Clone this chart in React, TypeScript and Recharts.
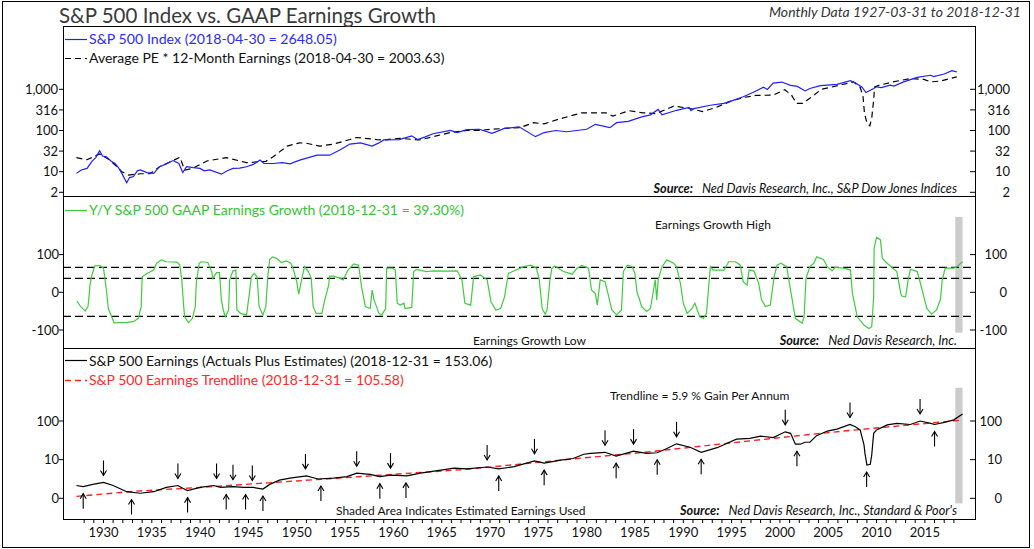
import {
  ComposedChart,
  Line,
  XAxis,
  YAxis,
  ReferenceLine,
  ReferenceArea,
} from 'recharts';

const FONT = 'Lato, "Open Sans", sans-serif';
const W = 1034;
const X_DOMAIN: [number, number] = [1925.81, 2020.29];

// ---- top panel: S&P 500 index vs average PE * 12m earnings (log scale)
const spxYears = [
  1927.2, 1927.7, 1928.3, 1928.8, 1929.2, 1929.6, 1929.9, 1930.3, 1930.8, 1931.2,
  1931.6, 1931.9, 1932.4, 1932.7, 1933.1, 1933.5, 1933.8, 1934.5, 1935.2, 1935.8,
  1936.5, 1937.2, 1937.8, 1938.2, 1938.6, 1939.3, 1940.0, 1940.4, 1941.0, 1942.2,
  1942.8, 1943.4, 1944.1, 1944.8, 1945.5, 1946.2, 1946.6, 1947.6, 1948.5, 1949.3,
  1950.3, 1951.2, 1952.1, 1953.4, 1954.5, 1955.5, 1956.6, 1957.8, 1958.5, 1959.0,
  1960.6, 1961.9, 1962.5, 1963.3, 1964.1, 1965.9, 1966.6, 1967.6, 1968.9, 1970.2,
  1971.5, 1973.0, 1974.7, 1975.6, 1976.8, 1977.9, 1979.0, 1980.0, 1980.9, 1982.4,
  1983.1, 1984.3, 1985.7, 1986.6, 1987.4, 1987.8, 1989.3, 1990.6, 1990.8, 1991.1,
  1992.8, 1994.2, 1995.0, 1996.2, 1997.2, 1998.3, 1998.7, 1999.3, 2000.2, 2001.1,
  2001.8, 2002.6, 2003.1, 2004.2, 2005.9, 2007.3, 2007.8, 2008.5, 2008.9, 2009.7,
  2010.0, 2010.5, 2011.4, 2011.8, 2012.8, 2014.2, 2015.6, 2015.9, 2017.0, 2017.8,
  2018.3,
];
const spxValues = [
  9.1, 11, 12, 17.8, 22, 32.4, 24, 22.9, 18, 15.8,
  12, 9.1, 5.4, 7.2, 7.6, 10.5, 11, 9.5, 9.1, 13.2,
  15.5, 18.6, 15.8, 9.5, 13.2, 12.5, 12, 10.5, 11, 8.7,
  10.5, 12, 12.2, 13.2, 15, 19.1, 15.8, 15.8, 16.5, 15.5,
  19.1, 22, 25.1, 25.1, 33.9, 46.8, 50.1, 41.7, 50, 58.9,
  60.3, 74.1, 60.3, 70, 83.2, 100, 89.1, 104.7, 107, 85.1,
  112, 123, 70.8, 89.1, 100, 93.3, 100, 107, 141, 117,
  155, 166, 214, 240, 324, 240, 309, 363, 305, 340,
  410, 457, 525, 661, 832, 1122, 990, 1413, 1500, 1250,
  1175, 912, 1047, 1230, 1318, 1622, 1445, 1122, 832, 1047,
  1148, 1100, 1259, 1200, 1514, 1950, 2188, 2040, 2344, 2818,
  2648,
];
const peYears = [
  1927.2, 1928.3, 1929.6, 1930.6, 1931.4, 1931.9, 1932.6, 1933.8, 1934.8, 1935.8,
  1937.2, 1937.9, 1938.4, 1939.2, 1940.7, 1942.7, 1944.8, 1946.8, 1947.6, 1949.0,
  1950.3, 1951.0, 1952.4, 1953.8, 1955.5, 1956.2, 1958.3, 1959.0, 1960.6, 1962.7,
  1964.1, 1965.9, 1967.6, 1968.9, 1970.0, 1971.5, 1973.1, 1974.5, 1975.6, 1977.2,
  1979.5, 1982.0, 1982.7, 1984.4, 1985.8, 1987.2, 1989.0, 1990.6, 1992.0, 1993.4,
  1994.8, 1996.2, 1997.5, 1999.3, 2000.5, 2001.2, 2001.7, 2002.4, 2003.2, 2004.3,
  2006.2, 2007.6, 2008.3, 2008.6, 2008.75, 2009.0, 2009.3, 2009.5, 2009.7, 2009.8,
  2010.3, 2011.7, 2013.5, 2014.9, 2015.6, 2016.6, 2018.3,
];
const peValues = [
  21.9, 19.5, 26.9, 19.5, 13.2, 10, 8.3, 8.9, 8.9, 13.2,
  18.6, 22.4, 11, 12, 18.2, 21.9, 16.6, 17.8, 23.4, 41.7,
  50.1, 49, 41.7, 46.8, 60.3, 67.6, 60.3, 58.9, 64.6, 58.9,
  70.8, 89.1, 100, 100, 107, 112, 117, 155, 145, 191,
  269, 269, 224, 302, 269, 257, 389, 347, 288, 363,
  501, 631, 708, 724, 977, 724, 457, 457, 631, 1000,
  1259, 1514, 1122, 661, 263, 151, 129, 200, 550, 1148,
  1259, 1514, 1820, 1738, 1514, 1585, 2004,
];
const spxTicks = [3.16, 10, 31.6, 100, 316, 1000];
const spxTickLabels = ['2', '10', '32', '100', '316', '1,000'];

// ---- middle panel: Y/Y GAAP earnings growth
const growthYears = [
  1927.25, 1927.6, 1928.1, 1928.4, 1928.5, 1928.6, 1928.8, 1929.1, 1929.6, 1930.0,
  1930.3, 1930.5, 1931.1, 1932.4, 1933.1, 1933.6, 1933.9, 1934.0, 1934.5, 1935.2,
  1935.5, 1936.0, 1936.5, 1937.6, 1937.9, 1938.1, 1938.3, 1938.4, 1938.8, 1939.2,
  1939.5, 1939.6, 1939.9, 1940.1, 1940.8, 1941.2, 1941.3, 1941.7, 1942.0, 1942.2,
  1942.4, 1942.6, 1942.95, 1943.05, 1943.4, 1943.7, 1943.8, 1944.2, 1944.8, 1945.1,
  1945.3, 1945.6, 1945.9, 1946.1, 1946.5, 1946.8, 1947.0, 1947.2, 1947.5, 1947.9,
  1948.4, 1948.9, 1949.4, 1949.6, 1950.0, 1950.2, 1950.5, 1950.8, 1951.2, 1951.5,
  1951.7, 1952.0, 1952.6, 1952.9, 1953.3, 1953.4, 1953.8, 1954.5, 1954.8, 1955.3,
  1955.9, 1956.4, 1956.7, 1957.1, 1957.6, 1957.8, 1958.0, 1958.5, 1958.8, 1959.2,
  1959.3, 1959.9, 1960.2, 1960.4, 1960.7, 1961.1, 1961.2, 1961.9, 1962.1, 1962.4,
  1963.4, 1964.1, 1965.5, 1966.6, 1967.1, 1967.4, 1968.0, 1968.3, 1969.0, 1969.7,
  1970.1, 1970.6, 1971.1, 1971.5, 1971.9, 1972.5, 1973.5, 1974.2, 1974.8, 1975.1,
  1975.4, 1975.7, 1975.9, 1976.2, 1976.4, 1976.7, 1977.6, 1978.5, 1979.0, 1979.5,
  1980.2, 1980.5, 1980.9, 1981.1, 1981.4, 1981.9, 1982.2, 1982.6, 1983.1, 1983.6,
  1983.8, 1984.2, 1984.7, 1985.0, 1985.2, 1985.7, 1986.2, 1986.6, 1987.1, 1987.25,
  1987.4, 1987.8, 1988.3, 1989.0, 1989.3, 1989.7, 1990.0, 1990.4, 1990.9, 1991.2,
  1991.7, 1992.1, 1992.4, 1992.6, 1992.8, 1993.1, 1994.2, 1994.7, 1995.4, 1995.9,
  1996.2, 1996.6, 1996.8, 1997.3, 1997.8, 1998.1, 1998.5, 1999.0, 1999.4, 1999.7,
  2000.1, 2000.7, 2001.1, 2001.6, 2002.3, 2002.5, 2002.7, 2003.1, 2003.5, 2003.8,
  2004.5, 2004.9, 2005.4, 2005.7, 2006.6, 2007.3, 2007.5, 2008.0, 2008.7, 2009.2,
  2009.5, 2009.7, 2009.75, 2010.0, 2010.4, 2010.6, 2011.1, 2011.8, 2012.1, 2012.5,
  2012.6, 2013.0, 2013.3, 2013.5, 2014.2, 2014.5, 2014.9, 2015.2, 2015.7, 2016.2,
  2016.6, 2016.8, 2017.1, 2018.0, 2018.3, 2018.9,
];
const growthValues = [
  -23, -37, -50, -37, -12, 19, 46, 70, 71, 64,
  6, -43, -81, -80, -78, -69, -38, 41, 50, 59,
  77, 86, 81, 80, 72, 33, -38, -65, -81, -69,
  -38, 24, 77, 81, 79, 55, 37, 52, 52, -20,
  -47, -65, -47, 33, 57, 59, -47, -56, -60, -3,
  41, 50, 41, -38, -60, -38, 41, 87, 94, 90,
  79, 83, 77, 64, 28, -5, 33, 68, 55, 37,
  -38, -56, -56, -20, 19, 43, 43, 37, 33, 59,
  75, 72, 15, -38, -43, 6, -20, -56, -60, -43,
  64, 64, 59, -29, -34, -29, -43, -40, 55, 61,
  55, 57, 56, 57, 33, -29, -34, 41, 46, 33,
  -25, -47, -43, -12, 50, 57, 68, 72, 64, 33,
  -43, -58, -47, 33, 64, 70, 55, 48, 64, 71,
  64, 6, -3, -34, 33, 28, -3, -47, -60, -47,
  55, 72, 68, 50, 2, -38, -51, -43, 33, -20,
  33, 68, 86, 77, 68, 24, -29, -56, -43, -29,
  -65, -69, -56, 6, 68, 59, 59, 81, 81, 72,
  28, 19, 59, 57, 24, -20, -38, -34, 41, 72,
  77, 68, 6, -69, -82, -65, 37, 68, 77, 94,
  87, 68, 57, 66, 64, 59, -3, -65, -87, -96,
  -92, -12, 117, 146, 139, 90, 77, 61, 55, -3,
  -10, -12, 37, 61, 55, 28, -12, -43, -58, -47,
  -20, 33, 64, 64, 68, 81,
];
const growthBands = [66, 37, -64];
const growthTicks = [-100, 0, 100];
const growthTickLabels = ['-100', '0', '100'];

// ---- bottom panel: S&P 500 earnings and trendline (log scale)
const epsYears = [
  1927.2, 1927.9, 1928.9, 1930.0, 1931.0, 1932.4, 1933.8, 1935.2, 1936.5, 1937.7,
  1938.2, 1938.7, 1940.0, 1941.4, 1942.1, 1943.4, 1944.5, 1945.5, 1946.5, 1947.2,
  1948.2, 1949.3, 1951.0, 1952.2, 1953.8, 1955.2, 1956.2, 1957.6, 1958.6, 1959.7,
  1961.4, 1962.8, 1964.9, 1966.3, 1967.6, 1969.7, 1970.9, 1972.5, 1974.6, 1975.6,
  1977.3, 1978.6, 1979.7, 1980.4, 1981.9, 1983.05, 1984.85, 1986.2, 1987.3, 1988.3,
  1989.3, 1990.7, 1991.85, 1993.5, 1995.5, 1996.9, 1998.0, 1999.3, 2000.55, 2001.1,
  2001.6, 2002.1, 2002.6, 2003.1, 2003.8, 2004.9, 2005.9, 2007.25, 2007.8, 2008.3,
  2008.7, 2008.8, 2009.0, 2009.35, 2009.5, 2009.7, 2010.0, 2011.1, 2012.1, 2013.5,
  2014.5, 2015.6, 2016.0, 2016.9, 2018.0, 2018.9,
];
const epsValues = [
  2.14, 2.0, 2.29, 2.57, 2.14, 1.48, 1.35, 1.48, 1.91, 2.14,
  1.82, 1.58, 1.91, 2.14, 1.91, 2.0, 1.91, 1.91, 1.74, 2.29,
  2.95, 3.31, 3.8, 3.16, 3.31, 3.63, 4.47, 4.17, 3.63, 3.98,
  3.8, 4.47, 5.37, 6.03, 5.75, 6.46, 5.75, 6.61, 9.33, 8.13,
  9.77, 10.7, 13.8, 14.5, 15.5, 12.3, 16.6, 14.5, 15.1, 19.5,
  25.7, 20.9, 15.5, 20.4, 33.9, 35.5, 40.7, 37.2, 52.5, 47.9,
  25.1, 25.1, 28.2, 28.2, 41.7, 55, 61.7, 81.3, 70.8, 58.9,
  24, 14.5, 7.24, 7.59, 13.2, 47.9, 58.9, 79.4, 87.1, 81.3,
  100, 87.1, 81.3, 91.2, 107, 151,
];
const trendYears = [
  1927.2, 1933, 1940, 1947, 1953, 1960, 1967, 1973, 1979, 1986,
  1993, 2000, 2006.6, 2013.5, 2018.9,
];
const trendValues = [
  1.12, 1.51, 1.91, 2.51, 3.16, 4.17, 5.5, 7.59, 10.7, 15.5,
  24, 37.2, 55, 79.4, 105.6,
];
// peaks (arrow pointing down) and troughs (arrow pointing up)
const peakYears = [
  1930.0, 1937.7, 1941.7, 1943.4, 1945.4, 1950.9, 1956.2, 1959.7, 1969.7, 1974.6,
  1981.9, 1984.85, 1989.3, 2000.55, 2007.25, 2014.5,
];
const peakValues = [
  2.57, 2.14, 2.14, 2.0, 1.9, 3.8, 4.47, 3.98, 6.46, 9.33,
  15.5, 16.6, 25.7, 52.5, 81.3, 100,
];
const troughYears = [
  1927.9, 1932.9, 1938.7, 1942.7, 1944.7, 1946.5, 1952.5, 1958.6, 1961.3, 1970.9,
  1975.6, 1983.05, 1987.3, 1991.85, 2001.76, 2008.97, 2016.0,
];
const troughValues = [
  2.0, 1.41, 1.58, 1.9, 1.9, 1.74, 3.16, 3.63, 3.8, 5.75,
  8.13, 12.3, 15.1, 15.5, 25.1, 7.24, 81.3,
];
const epsTicks = [1, 10, 100];
const epsTickLabels = ['0', '10', '100'];

const yearTicks = Array.from({ length: 91 }, (_, i) => 1928 + i);
const estimatedFrom = 2018.15;
const estimatedTo = 2018.9;

const pts = (years: number[], values: number[]) =>
  years.map((year, i) => ({ year, value: values[i] }));

const spxData = pts(spxYears, spxValues);
const peData = pts(peYears, peValues);
const growthData = pts(growthYears, growthValues);
const epsData = pts(epsYears, epsValues);
const trendData = pts(trendYears, trendValues);
const peakData = pts(peakYears, peakValues);
const troughData = pts(troughYears, troughValues);

const labelFor = (ticks: number[], labels: string[]) => (v: number) =>
  labels[ticks.indexOf(v)] ?? String(v);

const leftTickStyle = { fontSize: 13, fill: '#111', fontFamily: FONT };

function rightTick(fmt: (v: number) => string, dx: number) {
  return (p: any) => (
    <g key={`rt-${p.index}`}>
      <line x1={p.x - 6} x2={p.x - 1} y1={p.y} y2={p.y} stroke="#000" />
      <text
        x={p.x + dx}
        y={p.y}
        dy="0.36em"
        textAnchor="end"
        fontSize={13}
        fill="#111"
        fontFamily={FONT}
      >
        {fmt(p.payload.value)}
      </text>
    </g>
  );
}

function arrowDot(dir: 'down' | 'up') {
  return (p: any) => {
    const { cx, cy } = p;
    if (cx == null || cy == null) return <g key={`a-${dir}-${p.index}`} />;
    const gap = 7;
    const len = 15;
    const tip = dir === 'down' ? cy - gap : cy + gap;
    const tail = dir === 'down' ? tip - len : tip + len;
    const back = dir === 'down' ? tip - 5 : tip + 5;
    return (
      <g key={`a-${dir}-${p.index}`} stroke="#000" strokeWidth={1.1} fill="none">
        <line x1={cx} x2={cx} y1={tail} y2={tip} />
        <polyline points={`${cx - 3},${back} ${cx},${tip} ${cx + 3},${back}`} />
      </g>
    );
  };
}

function yearTick(p: any) {
  const v = p.payload.value;
  return (
    <text
      key={`yt-${p.index}`}
      x={p.x}
      y={p.y + 14}
      textAnchor="middle"
      fontSize={13}
      fill="#111"
      fontFamily={FONT}
    >
      {v % 5 === 0 ? v : ''}
    </text>
  );
}

const spxFmt = labelFor(spxTicks, spxTickLabels);
const growthFmt = labelFor(growthTicks, growthTickLabels);
const epsFmt = labelFor(epsTicks, epsTickLabels);

const SPX_DOMAIN: [number, number] = [2.43, 34360];
const GROWTH_DOMAIN: [number, number] = [-150.4, 255.4];
const EPS_DOMAIN: [number, number] = [0.2913, 7745];

const noMargin = { top: 0, right: 0, bottom: 0, left: 0 };

export default function App() {
  return (
    <div
      style={{
        position: 'relative',
        width: W,
        height: 549,
        background: '#fff',
        fontFamily: FONT,
        overflow: 'hidden',
      }}
    >
      <style>{'body{margin:0}'}</style>

      {/* plot frame */}
      <div
        style={{
          position: 'absolute',
          left: 63,
          top: 26,
          width: 913,
          height: 494,
          border: '1px solid #000',
          boxSizing: 'border-box',
        }}
      />
      <div style={{ position: 'absolute', left: 63, top: 196, width: 913, height: 1, background: '#000' }} />
      <div style={{ position: 'absolute', left: 63, top: 348, width: 913, height: 1, background: '#000' }} />

      {/* top panel */}
      <div style={{ position: 'absolute', left: 0, top: 26 }}>
        <ComposedChart width={W} height={183} margin={{ top: 0, right: 0, bottom: 12, left: 0 }}>
          <XAxis type="number" dataKey="year" domain={X_DOMAIN} allowDataOverflow hide />
          <YAxis
            yAxisId="l"
            type="number"
            scale="log"
            domain={SPX_DOMAIN}
            allowDataOverflow
            ticks={spxTicks}
            interval={0}
            tickFormatter={spxFmt}
            width={63}
            axisLine={false}
            tickLine={{ stroke: '#000' }}
            tickSize={4}
            tickMargin={1}
            tick={leftTickStyle}
          />
          <YAxis
            yAxisId="r"
            orientation="right"
            type="number"
            scale="log"
            domain={SPX_DOMAIN}
            allowDataOverflow
            ticks={spxTicks}
            interval={0}
            width={58}
            axisLine={false}
            tickLine={false}
            tickSize={0}
            tickMargin={0}
            tick={rightTick(spxFmt, 34)}
          />
          <Line
            yAxisId="l"
            data={peData}
            dataKey="value"
            stroke="#000"
            strokeWidth={1.2}
            strokeDasharray="6 4"
            dot={false}
            isAnimationActive={false}
          />
          <Line
            yAxisId="l"
            data={spxData}
            dataKey="value"
            stroke="#1f1fff"
            strokeWidth={1.2}
            dot={false}
            isAnimationActive={false}
          />
        </ComposedChart>
      </div>

      {/* middle panel */}
      <div style={{ position: 'absolute', left: 0, top: 196 }}>
        <ComposedChart width={W} height={153} margin={noMargin}>
          <XAxis type="number" dataKey="year" domain={X_DOMAIN} allowDataOverflow hide />
          <YAxis
            yAxisId="l"
            type="number"
            domain={GROWTH_DOMAIN}
            allowDataOverflow
            ticks={growthTicks}
            interval={0}
            tickFormatter={growthFmt}
            width={63}
            axisLine={false}
            tickLine={{ stroke: '#000' }}
            tickSize={4}
            tickMargin={0}
            tick={leftTickStyle}
          />
          <YAxis
            yAxisId="r"
            orientation="right"
            type="number"
            domain={GROWTH_DOMAIN}
            allowDataOverflow
            ticks={growthTicks}
            interval={0}
            width={58}
            axisLine={false}
            tickLine={false}
            tickSize={0}
            tickMargin={0}
            tick={rightTick(growthFmt, 31)}
          />
          <ReferenceArea
            yAxisId="l"
            x1={estimatedFrom}
            x2={estimatedTo}
            y1={-107}
            y2={200}
            fill="#cccccc"
            fillOpacity={1}
            stroke="none"
          />
          {growthBands.map((b) => (
            <ReferenceLine
              key={b}
              yAxisId="l"
              y={b}
              stroke="#000"
              strokeWidth={1.1}
              strokeDasharray="8 4"
            />
          ))}
          <Line
            yAxisId="l"
            data={growthData}
            dataKey="value"
            stroke="#3fcc3f"
            strokeWidth={1.2}
            dot={false}
            isAnimationActive={false}
          />
        </ComposedChart>
      </div>

      {/* bottom panel */}
      <div style={{ position: 'absolute', left: 0, top: 348 }}>
        <ComposedChart width={W} height={201} margin={noMargin}>
          <XAxis
            type="number"
            dataKey="year"
            domain={X_DOMAIN}
            allowDataOverflow
            ticks={yearTicks}
            interval={0}
            height={30}
            axisLine={false}
            tickLine={{ stroke: '#000' }}
            tickSize={4}
            tickMargin={0}
            tick={yearTick}
          />
          <YAxis
            yAxisId="l"
            type="number"
            scale="log"
            domain={EPS_DOMAIN}
            allowDataOverflow
            ticks={epsTicks}
            interval={0}
            tickFormatter={epsFmt}
            width={63}
            axisLine={false}
            tickLine={{ stroke: '#000' }}
            tickSize={4}
            tickMargin={0}
            tick={leftTickStyle}
          />
          <YAxis
            yAxisId="r"
            orientation="right"
            type="number"
            scale="log"
            domain={EPS_DOMAIN}
            allowDataOverflow
            ticks={epsTicks}
            interval={0}
            width={58}
            axisLine={false}
            tickLine={false}
            tickSize={0}
            tickMargin={0}
            tick={rightTick(epsFmt, 26)}
          />
          <ReferenceArea
            yAxisId="l"
            x1={estimatedFrom}
            x2={estimatedTo}
            y1={0.74}
            y2={725}
            fill="#cccccc"
            fillOpacity={1}
            stroke="none"
          />
          <Line
            yAxisId="l"
            data={trendData}
            dataKey="value"
            stroke="#ff2020"
            strokeWidth={1.4}
            strokeDasharray="6 4"
            dot={false}
            isAnimationActive={false}
          />
          <Line
            yAxisId="l"
            data={epsData}
            dataKey="value"
            stroke="#000"
            strokeWidth={1.2}
            dot={false}
            isAnimationActive={false}
          />
          <Line
            yAxisId="l"
            data={peakData}
            dataKey="value"
            stroke="none"
            dot={arrowDot('down')}
            activeDot={false}
            isAnimationActive={false}
          />
          <Line
            yAxisId="l"
            data={troughData}
            dataKey="value"
            stroke="none"
            dot={arrowDot('up')}
            activeDot={false}
            isAnimationActive={false}
          />
        </ComposedChart>
      </div>

      {/* texts, legends and outer frame */}
      <svg
        width={W}
        height={549}
        style={{ position: 'absolute', left: 0, top: 0, pointerEvents: 'none' }}
        fontFamily={FONT}
      >
        <rect x={2.5} y={1.5} width={1027} height={546} fill="none" stroke="#000" />
        <text x={59} y={23} fontSize={20.5} fill="#3a3a3a">
          S&amp;P 500 Index vs. GAAP Earnings Growth
        </text>
        <text x={1021} y={17} fontSize={14} fontStyle="italic" fill="#333" textAnchor="end">
          Monthly Data 1927-03-31 to 2018-12-31
        </text>

        <line x1={65} x2={87} y1={39.5} y2={39.5} stroke="#1f1fff" strokeWidth={1.2} />
        <text x={89} y={44} fontSize={14.2} fill="#2a2aff">
          S&amp;P 500 Index (2018-04-30 = 2648.05)
        </text>
        <line x1={65} x2={87} y1={58.5} y2={58.5} stroke="#000" strokeWidth={1.2} strokeDasharray="6 4" />
        <text x={89} y={63} fontSize={14} fill="#111">
          Average PE * 12-Month Earnings (2018-04-30 = 2003.63)
        </text>
        <text x={957} y={193} fontSize={12.7} fontStyle="italic" fill="#111" textAnchor="end">
          <tspan fontWeight="bold">Source:</tspan>
          <tspan dx={9}>Ned Davis Research, Inc., S&amp;P Dow Jones Indices</tspan>
        </text>

        <line x1={65} x2={87} y1={210.5} y2={210.5} stroke="#3fcc3f" strokeWidth={1.2} />
        <text x={89} y={215} fontSize={14} fill="#33c433">
          Y/Y S&amp;P 500 GAAP Earnings Growth (2018-12-31 = 39.30%)
        </text>
        <text x={655} y={229} fontSize={12} fill="#111">
          Earnings Growth High
        </text>
        <text x={473} y={345} fontSize={12} fill="#111">
          Earnings Growth Low
        </text>
        <text x={957} y={345} fontSize={12.7} fontStyle="italic" fill="#111" textAnchor="end">
          <tspan fontWeight="bold">Source:</tspan>
          <tspan dx={9}>Ned Davis Research, Inc.</tspan>
        </text>

        <line x1={65} x2={87} y1={360.5} y2={360.5} stroke="#000" strokeWidth={1.2} />
        <text x={89} y={366} fontSize={14} fill="#111">
          S&amp;P 500 Earnings (Actuals Plus Estimates) (2018-12-31 = 153.06)
        </text>
        <line x1={65} x2={87} y1={380.5} y2={380.5} stroke="#ff2020" strokeWidth={1.4} strokeDasharray="6 4" />
        <text x={89} y={385} fontSize={14} fill="#ff2a2a">
          S&amp;P 500 Earnings Trendline (2018-12-31 = 105.58)
        </text>
        <text x={610} y={400} fontSize={12} fill="#111">
          Trendline = 5.9 % Gain Per Annum
        </text>
        <text x={336} y={515} fontSize={12} fill="#111">
          Shaded Area Indicates Estimated Earnings Used
        </text>
        <text x={957} y={515} fontSize={12.7} fontStyle="italic" fill="#111" textAnchor="end">
          <tspan fontWeight="bold">Source:</tspan>
          <tspan dx={9}>Ned Davis Research, Inc., Standard &amp; Poor's</tspan>
        </text>
      </svg>
    </div>
  );
}
